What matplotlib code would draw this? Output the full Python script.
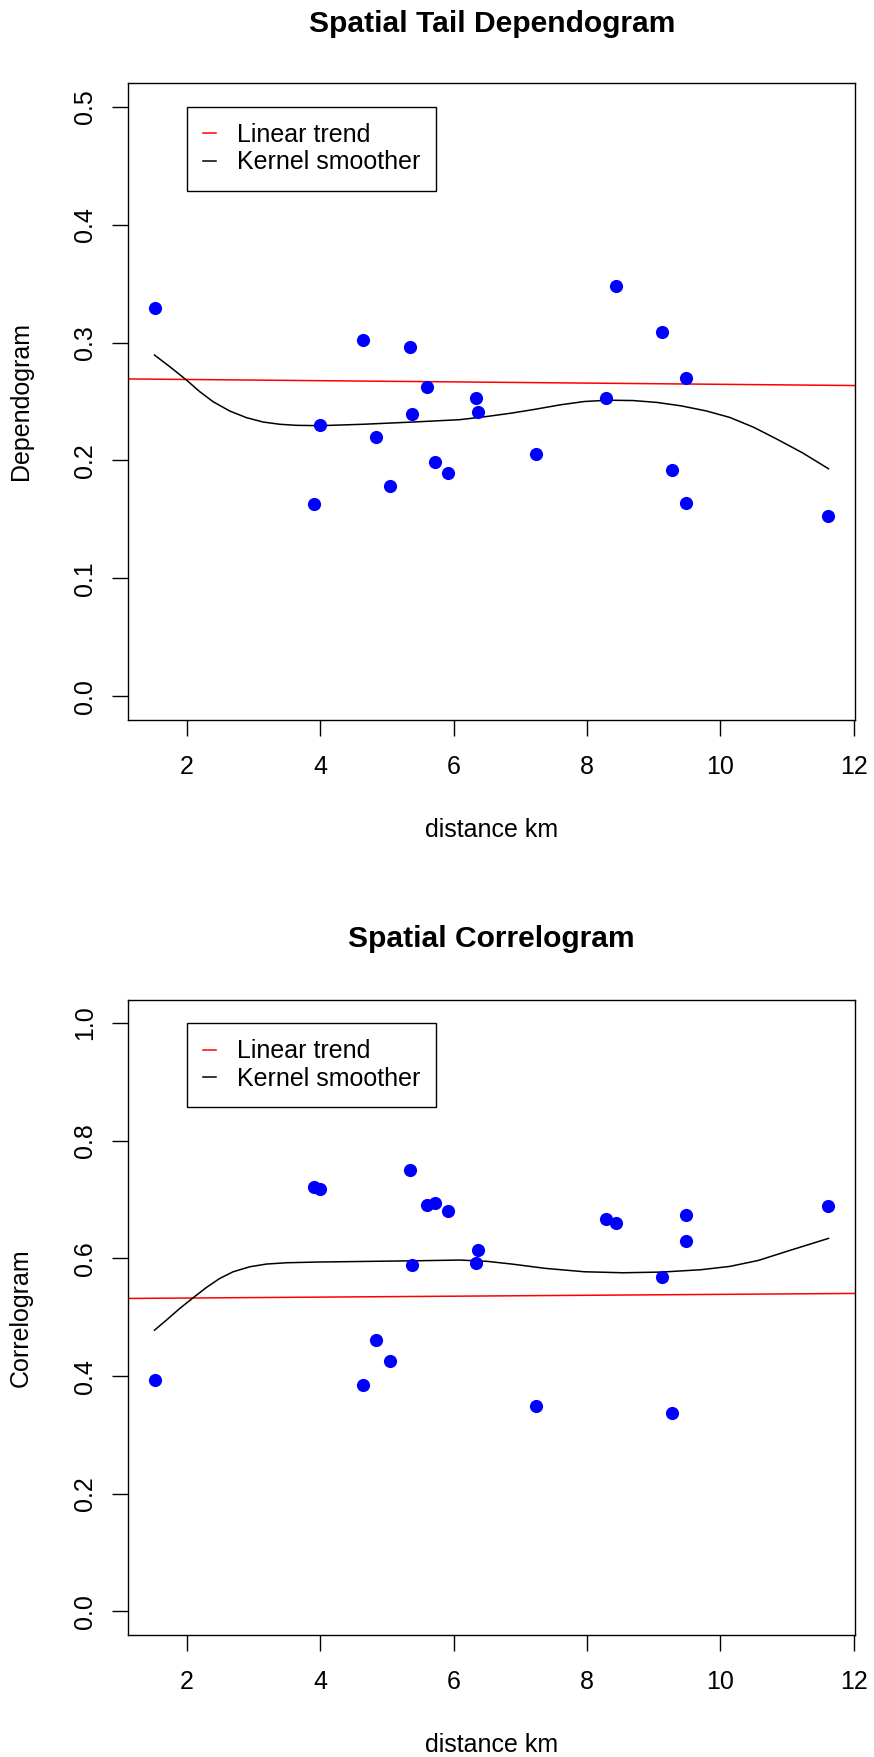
import matplotlib
matplotlib.use("Agg")
import matplotlib.pyplot as plt

plt.rcParams['font.family'] = ['Liberation Sans', 'DejaVu Sans']

# distances between station pairs (km)
distance = [1.52, 4.64, 5.35, 5.60, 5.38, 3.99, 4.84, 3.90, 5.05, 5.72, 5.91,
            6.34, 6.37, 7.24, 8.28, 8.44, 9.13, 9.48, 9.27, 9.48, 11.62]
dependogram = [0.329, 0.302, 0.296, 0.262, 0.239, 0.230, 0.2195, 0.163, 0.178, 0.199, 0.189,
               0.253, 0.241, 0.2055, 0.2526, 0.348, 0.309, 0.2695, 0.192, 0.164, 0.153]
correlogram = [0.393, 0.385, 0.751, 0.690, 0.589, 0.718, 0.461, 0.721, 0.426, 0.694, 0.680,
               0.592, 0.614, 0.349, 0.667, 0.661, 0.568, 0.673, 0.337, 0.630, 0.689]

# linear trend (intercept, slope)
dep_trend = (0.2697, -0.000513)
cor_trend = (0.5311, 0.00078)

# kernel smoother curves
dep_smooth_x = [1.51, 1.74, 1.99, 2.19, 2.39, 2.64, 2.89, 3.14, 3.39, 3.64, 3.99, 4.64, 5.39,
                6.09, 6.51, 6.87, 7.23, 7.60, 7.96, 8.32, 8.69, 9.05, 9.41, 9.78, 10.14,
                10.50, 10.86, 11.23, 11.62]
dep_smooth_y = [0.2894, 0.2795, 0.2682, 0.2583, 0.2498, 0.2419, 0.2363, 0.2326, 0.2307, 0.2298,
                0.2295, 0.2307, 0.2326, 0.2346, 0.2374, 0.2402, 0.2435, 0.2472, 0.2500, 0.2511,
                0.2508, 0.2492, 0.2463, 0.2421, 0.2365, 0.2281, 0.2177, 0.2065, 0.193]
cor_smooth_x = [1.51, 1.69, 1.89, 2.09, 2.29, 2.49, 2.69, 2.94, 3.19, 3.49, 3.94, 4.69, 5.44,
                6.09, 6.50, 6.87, 7.38, 7.96, 8.54, 9.12, 9.70, 10.14, 10.57, 11.01, 11.62]
cor_smooth_y = [0.478, 0.4952, 0.515, 0.5331, 0.5507, 0.566, 0.5773, 0.5858, 0.5904, 0.5926,
                0.5938, 0.5949, 0.596, 0.5972, 0.5950, 0.5904, 0.583, 0.5773, 0.5756, 0.5768,
                0.5807, 0.5864, 0.5966, 0.6125, 0.634]

x_ticks = [2, 4, 6, 8, 10, 12]
dep_ticks = [0.0, 0.1, 0.2, 0.3, 0.4, 0.5]
cor_ticks = [0.0, 0.2, 0.4, 0.6, 0.8, 1.0]

W, H = 874, 1757
fig = plt.figure(figsize=(W / 100, H / 100), dpi=100)


def panel(top, bottom, values, trend, sx, sy, yticks, ymax, ylabel, title, title_y):
    """Draw one R-style panel: points, linear trend, kernel smoother and legend."""
    ax = fig.add_axes([128.2 / W, 1 - bottom / H, 727.2 / W, (bottom - top) / H])
    ax.scatter(distance, values, s=90, color='#0000FF', zorder=3, linewidths=0)
    ax.axline((0, trend[0]), slope=trend[1], color='#FF0000', lw=1.1, label='Linear trend')
    ax.plot(sx, sy, color='black', lw=1.1, label='Kernel smoother')

    pad = 0.04 * ymax
    ax.set_ylim(-pad, ymax + pad)
    ax.set_xlim(1.116, 12.024)
    ax.set_xticks(x_ticks)
    ax.set_xticklabels([str(t) for t in x_ticks])
    ax.set_yticks(yticks)
    ax.set_yticklabels(['%.1f' % t for t in yticks])
    ax.tick_params(axis='both', direction='out', length=11.5, width=1.0, labelsize=18)
    ax.tick_params(axis='x', pad=14)
    ax.tick_params(axis='y', pad=11, labelrotation=90)
    for lab in ax.get_yticklabels():
        lab.set_va('center')
    for sp in ax.spines.values():
        sp.set_linewidth(1.0)

    ax.set_xlabel('distance km', fontsize=18)
    ax.xaxis.set_label_coords(0.5, -98 / (bottom - top))
    ax.set_ylabel(ylabel, fontsize=18)
    ax.yaxis.set_label_coords(-95 / 727.2, 0.5)

    leg = ax.legend(loc='upper left', bbox_to_anchor=(2, ymax), bbox_transform=ax.transData,
                    borderaxespad=0, fontsize=18, frameon=True, fancybox=False,
                    handlelength=0.52, handletextpad=0.81,
                    labelspacing=0.14, borderpad=0.65)
    leg.get_frame().set_edgecolor('black')
    leg.get_frame().set_linewidth(1.0)
    leg.get_frame().set_alpha(1)

    fig.text(491.8 / W, 1 - title_y / H, title, ha='center', va='center',
             fontsize=21.6, fontweight='bold')
    return ax


panel(83, 720, dependogram, dep_trend, dep_smooth_x, dep_smooth_y, dep_ticks, 0.5,
      'Dependogram', 'Spatial Tail Dependogram', 24)
panel(999.5, 1635, correlogram, cor_trend, cor_smooth_x, cor_smooth_y, cor_ticks, 1.0,
      'Correlogram', 'Spatial Correlogram', 939)

fig.savefig('out.png', dpi=100)
